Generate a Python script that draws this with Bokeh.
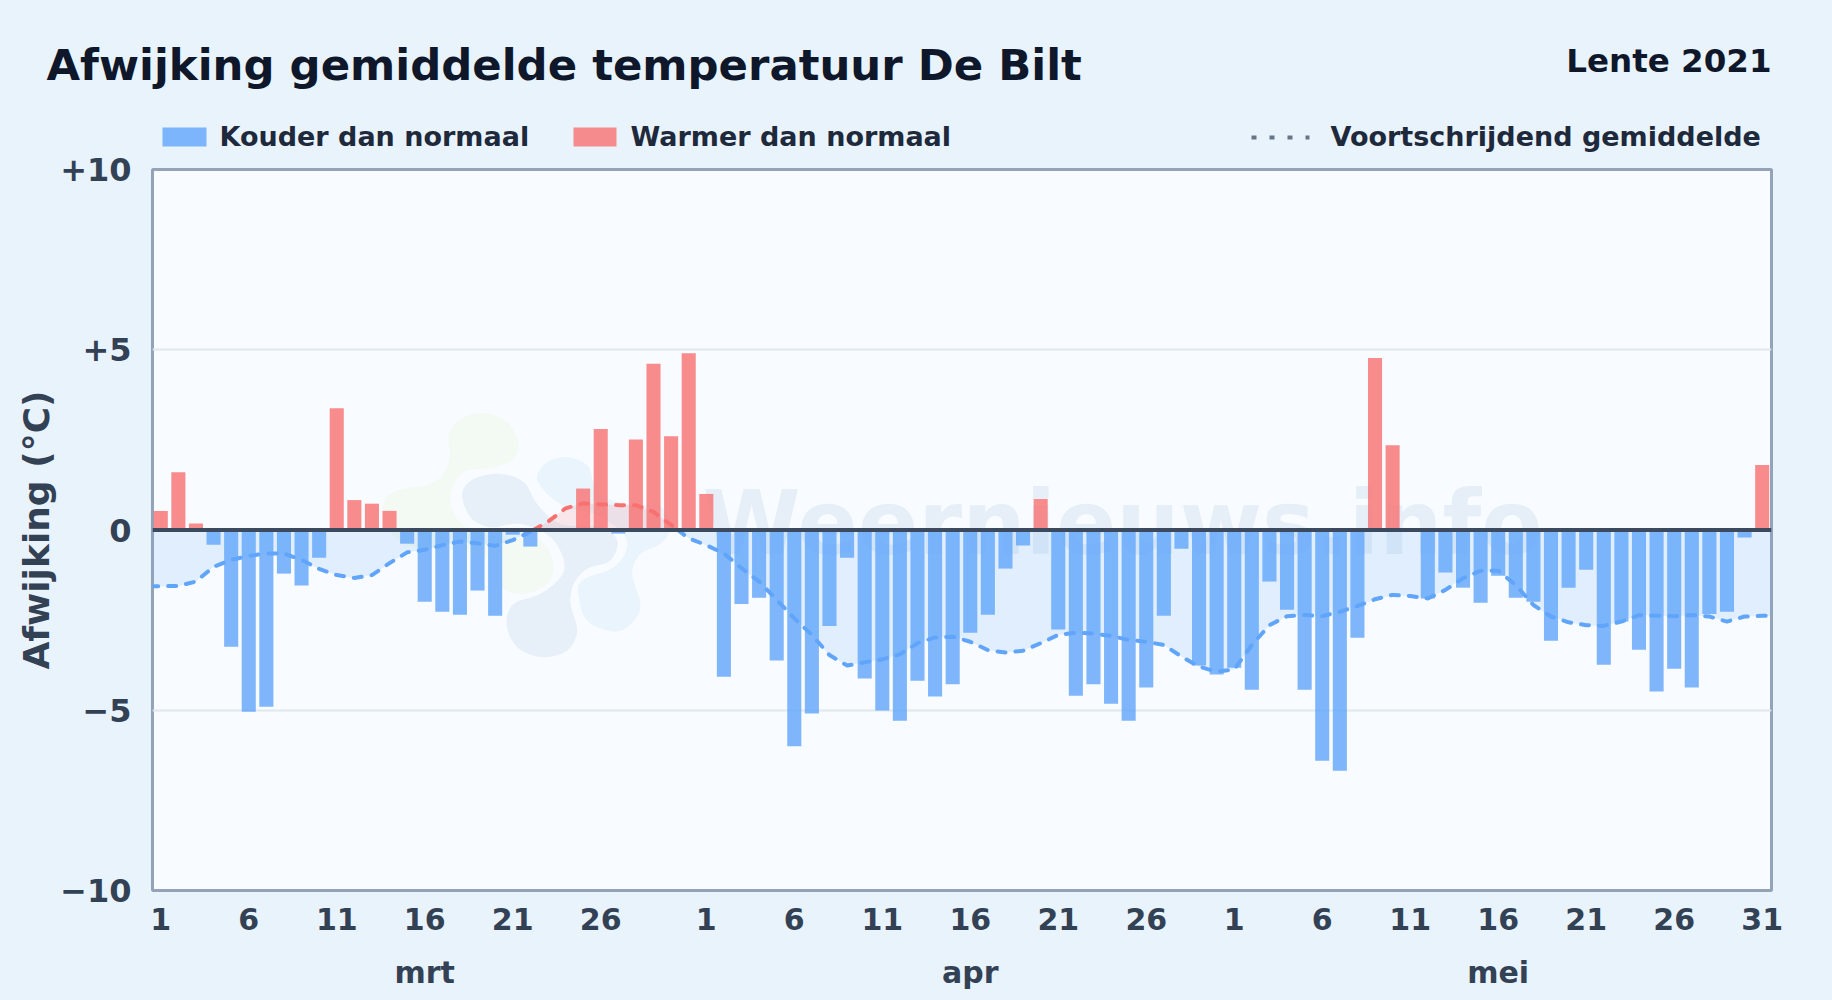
import numpy as np
from bokeh.embed import file_html
from bokeh.layouts import column
from bokeh.resources import INLINE
from bokeh.plotting import figure
from bokeh.core.properties import value
from bokeh.models import FixedTicker, LinearAxis, Range1d, Span

# ---- data -----------------------------------------------------------------
dev_mrt = [0.53, 1.60, 0.18, -0.41, -3.24, -5.04, -4.90, -1.21, -1.54, -0.77, 3.38, 0.83, 0.73, 0.53, -0.38,
           -1.99, -2.27, -2.35, -1.68, -2.38, -0.13, -0.46, 0.0, 0.0, 1.15, 2.80, -0.10, 2.51, 4.61, 2.60, 4.90]
dev_apr = [1.00, -4.07, -2.05, -1.88, -3.62, -6.00, -5.09, -2.66, -0.77, -4.12, -5.01, -5.29, -4.18, -4.62, -4.28,
           -2.85, -2.35, -1.07, -0.43, 0.86, -2.76, -4.60, -4.28, -4.82, -5.29, -4.37, -2.38, -0.52, -3.76, -4.01]
dev_mei = [-3.82, -4.43, -1.43, -2.21, -4.43, -6.40, -6.68, -2.99, 4.77, 2.35, 0.0, -1.90, -1.18, -1.60, -2.02,
           -1.27, -1.88, -1.99, -3.07, -1.60, -1.10, -3.74, -2.54, -3.32, -4.48, -3.85, -4.37, -2.33, -2.27, -0.21, 1.80]

avg_mrt = [-1.56, -1.55, -1.43, -1.02, -0.83, -0.72, -0.65, -0.65, -0.83, -1.08, -1.25, -1.33, -1.25, -0.92, -0.62,
           -0.55, -0.42, -0.32, -0.37, -0.44, -0.28, -0.05, 0.23, 0.60, 0.74, 0.71, 0.69, 0.69, 0.50, 0.14, -0.23]
avg_apr = [-0.42, -0.65, -1.06, -1.43, -1.94, -2.45, -2.91, -3.47, -3.76, -3.67, -3.59, -3.45, -3.14, -2.98, -2.96,
           -3.10, -3.33, -3.40, -3.35, -3.14, -2.91, -2.85, -2.87, -2.94, -3.05, -3.10, -3.19, -3.51, -3.79, -3.93]
avg_mei = [-3.87, -3.19, -2.64, -2.39, -2.36, -2.39, -2.27, -2.11, -1.92, -1.80, -1.83, -1.90, -1.66, -1.34, -1.13,
           -1.13, -1.53, -2.08, -2.40, -2.56, -2.64, -2.66, -2.54, -2.36, -2.38, -2.39, -2.36, -2.40, -2.54, -2.40, -2.38]

day_tick_labels = ["1", "6", "11", "16", "21", "26",
                   "1", "6", "11", "16", "21", "26",
                   "1", "6", "11", "16", "21", "26", "31"]
month_labels = ["mrt", "apr", "mei"]
y_ticks = [10, 5, 0, -5, -10]
y_tick_labels = ["+10", "+5", "0", "\u22125", "\u221210"]
title_text = "Afwijking gemiddelde temperatuur De Bilt"
season_text = "Lente 2021"
legend_labels = ["Kouder dan normaal", "Warmer dan normaal", "Voortschrijdend gemiddelde"]

# ---- derived --------------------------------------------------------------
dev = np.array(dev_mrt + dev_apr + dev_mei)
avg = np.array(avg_mrt + avg_apr + avg_mei)
idx = np.arange(len(dev))
n_mrt, n_apr = len(dev_mrt), len(dev_apr)
tick_idx = ([int(l) - 1 for l in day_tick_labels[:6]] +
            [n_mrt + int(l) - 1 for l in day_tick_labels[6:12]] +
            [n_mrt + n_apr + int(l) - 1 for l in day_tick_labels[12:]])
month_idx = [15, n_mrt + 15, n_mrt + n_apr + 15]

lx, ly = [-0.6], [avg[0]]
for i in idx:
    if i > 0 and avg[i - 1] * avg[i] < 0:
        lx.append(i - 1 + avg[i - 1] / (avg[i - 1] - avg[i]))
        ly.append(0.0)
    lx.append(float(i))
    ly.append(avg[i])
lx.append(idx[-1] + 0.6)
ly.append(avg[-1])
lx, ly = np.array(lx), np.array(ly)
neg_y = np.where(ly <= 0, ly, np.nan)
pos_y = np.where(ly >= 0, ly, np.nan)

# ---- page geometry (window pixels) ----------------------------------------
W, H, HEAD, OVERLAP = 1832, 1000, 156, 16
FL, FR, FT, FB = 152, 1771, 169, 890
BG = "#e9f3fc"
PLOT_BG = "#f8fbff"
BLUE, RED = "#60a5fa", "#f87171"
FONT = "DejaVu Sans"

# ---- header: titles and legend --------------------------------------------
h = figure(width=W, height=HEAD, output_backend="svg", toolbar_location=None,
           x_range=Range1d(0, W), y_range=Range1d(HEAD, 0), x_axis_location=None, y_axis_location=None,
           min_border=0, background_fill_color=BG, border_fill_color=BG, outline_line_color=None,
           frame_align=False)
h.grid.grid_line_color = None

def head_text(x, y, text, size, color, align="left"):
    h.text([x], [y], text=[text], text_font=value(FONT), text_font_style="bold", text_font_size=size,
           text_color=color, text_align=align, text_baseline="middle")

head_text(46, 64, title_text, "43.4px", "#0f172a")
head_text(1771, 60, season_text, "32.5px", "#0f172a", "right")
h.quad(left=[162], right=[206], top=[127], bottom=[146], fill_color=BLUE, fill_alpha=0.8, line_color=None)
h.quad(left=[573], right=[616], top=[127], bottom=[146], fill_color=RED, fill_alpha=0.8, line_color=None)
h.line([1251, 1309], [137, 137], line_color="#64748b", line_width=4, line_dash="5 13")
head_text(219, 136, legend_labels[0], "27px", "#1e293b")
head_text(630, 136, legend_labels[1], "27px", "#1e293b")
head_text(1330, 136, legend_labels[2], "27px", "#1e293b")

# ---- main chart (its transparent top border overlaps the header) ----------
TOP = HEAD - OVERLAP
p = figure(width=W, height=H - TOP, output_backend="svg", toolbar_location=None,
           x_range=Range1d(-0.47, len(dev) - 0.47), y_range=Range1d(-10, 10),
           x_axis_location=None, y_axis_location="left",
           min_border_left=FL, min_border_right=W - FR, min_border_top=FT - TOP, min_border_bottom=H - FB,
           background_fill_color=PLOT_BG, border_fill_color=None,
           outline_line_color="#94a3b8", outline_line_width=3, frame_align=False,
           margin=(-OVERLAP, 0, 0, 0))

def dx(px):
    return (np.asarray(px, float) - FL) / (FR - FL) * len(dev) - 0.47
def dy(py):
    return ((FT + FB) / 2 - np.asarray(py, float)) / 36.05

# watermark
def blob(points):
    pts = np.array(points, float)
    n = len(pts)
    out = []
    for i in range(n):
        p0, p1, p2, p3 = pts[i - 1], pts[i], pts[(i + 1) % n], pts[(i + 2) % n]
        for t in np.linspace(0, 1, 8, endpoint=False):
            out.append(0.5 * (2 * p1 + (p2 - p0) * t + (2 * p0 - 5 * p1 + 4 * p2 - p3) * t ** 2 + (3 * p1 - p0 - 3 * p2 + p3) * t ** 3))
    out = np.array(out)
    return dx(360 + out[:, 0] / 3), dy(390 + out[:, 1] / 3)

wm_green = [(265,130),(300,85),(370,68),(440,95),(475,160),(455,210),(390,232),(320,240),(280,280),(270,340),(300,395),(360,430),(470,440),(540,450),(580,520),(560,580),(490,610),(420,590),(400,520),(300,480),(140,465),(75,400),(70,335),(110,300),(210,280),(255,240),(268,190)]
wm_dark = [(305,310),(340,265),(420,250),(490,275),(530,340),(600,400),(720,410),(770,450),(750,510),(680,535),(640,580),(630,640),(650,720),(620,780),(545,800),(470,770),(438,700),(460,640),(540,610),(600,560),(610,510),(570,440),(480,400),(390,410),(330,380)]
wm_light = [(530,260),(560,215),(620,200),(680,225),(700,280),(730,320),(800,340),(900,350),(930,410),(900,460),(840,490),(815,550),(840,650),(800,710),(750,722),(680,690),(655,620),(665,570),(760,530),(800,470),(780,420),(700,370),(620,350),(560,310)]
for pts, col in ((wm_green, "#f3faf3"), (wm_dark, "#e7f0f9"), (wm_light, "#e9f4fd")):
    xs, ys = blob(pts)
    p.patch(xs, ys, fill_color=col, line_color=None)

p.text([float(dx(1122))], [float(dy(522))], text=["Weernieuws.info"], text_font=value(FONT), text_font_style="bold",
       text_font_size="89px", text_color="#3b6fa5", text_alpha=0.09, text_align="center", text_baseline="middle")

# fills, bars, line
p.varea(lx, 0, np.minimum(ly, 0), fill_color=BLUE, fill_alpha=0.15)
p.varea(lx, 0, np.maximum(ly, 0), fill_color=RED, fill_alpha=0.15)

neg = dev < 0
pos = dev > 0
p.vbar(idx[neg], top=dev[neg], bottom=0, width=0.8, fill_color=BLUE, fill_alpha=0.8, line_color=None)
p.vbar(idx[pos], top=dev[pos], bottom=0, width=0.8, fill_color=RED, fill_alpha=0.8, line_color=None)

p.line(lx, neg_y, line_color=BLUE, line_width=4, line_dash="8 10", line_cap="round")
p.line(lx, pos_y, line_color=RED, line_width=4, line_dash="8 10", line_cap="round")

p.add_layout(Span(location=0, dimension="width", line_color="#3b4a5e", line_width=4))

# axes
TICK = "#334155"
p.grid.grid_line_color = None
p.ygrid.grid_line_color = "#e0e7ee"
p.ygrid.grid_line_width = 2
p.ygrid.ticker = FixedTicker(ticks=[5, -5])

ya = p.yaxis[0]
ya.ticker = FixedTicker(ticks=y_ticks)
ya.major_label_overrides = dict(zip(y_ticks, y_tick_labels))
ya.axis_line_color = None
ya.major_tick_line_color = None
ya.minor_tick_line_color = None
ya.major_label_standoff = 15
ya.major_label_text_font = FONT
ya.major_label_text_font_style = "bold"
ya.major_label_text_font_size = "32px"
ya.major_label_text_color = TICK
ya.axis_label = "Afwijking (\u00b0C)"
ya.axis_label_text_font = FONT
ya.axis_label_text_font_style = "bold"
ya.axis_label_text_font_size = "36px"
ya.axis_label_text_color = TICK
ya.axis_label_standoff = 0

xa = LinearAxis(ticker=FixedTicker(ticks=tick_idx),
                major_label_overrides=dict(zip(tick_idx, day_tick_labels)),
                axis_line_color=None, major_tick_line_color=None, minor_tick_line_color=None,
                major_label_standoff=11, major_label_text_font=FONT, major_label_text_font_style="bold",
                major_label_text_font_size="30px", major_label_text_color=TICK)
p.add_layout(xa, "below")
ma = LinearAxis(ticker=FixedTicker(ticks=month_idx),
                major_label_overrides=dict(zip(month_idx, month_labels)),
                axis_line_color=None, major_tick_line_color=None, minor_tick_line_color=None,
                major_label_standoff=16, major_label_text_font=FONT, major_label_text_font_style="bold",
                major_label_text_font_size="30px", major_label_text_color=TICK)
p.add_layout(ma, "below")

page = column(h, p, spacing=0)
html = file_html(page, INLINE, title=title_text)
html = html.replace("</head>", "<style>html,body{margin:0;padding:0;background:%s;overflow:hidden}</style></head>" % BG, 1)
open("out.html", "w").write(html)
